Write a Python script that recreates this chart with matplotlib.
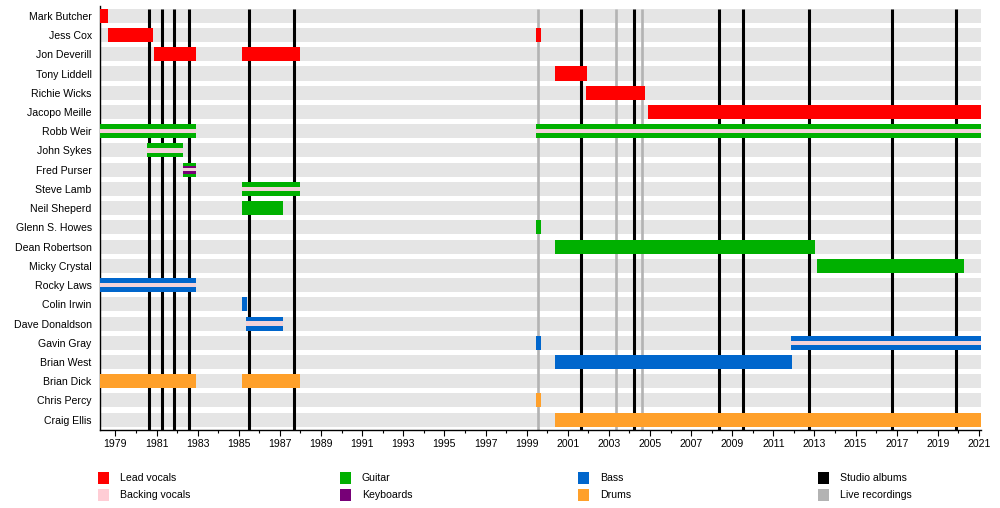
import matplotlib
matplotlib.use("Agg")
import matplotlib.pyplot as plt
from matplotlib.patches import Rectangle

plt.rcParams['font.family'] = ['Liberation Sans', 'DejaVu Sans']

members = ["Mark Butcher", "Jess Cox", "Jon Deverill", "Tony Liddell", "Richie Wicks",
           "Jacopo Meille", "Robb Weir", "John Sykes", "Fred Purser", "Steve Lamb",
           "Neil Shepherd", "Glenn S. Howes", "Dean Robertson", "Micky Crystal",
           "Rocky Laws", "Colin Irwin", "Dave Donaldson", "Gavin Gray", "Brian West",
           "Brian Dick", "Chris Percy", "Craig Ellis"]
member_labels = ["Mark Butcher", "Jess Cox", "Jon Deverill", "Tony Liddell", "Richie Wicks",
                 "Jacopo Meille", "Robb Weir", "John Sykes", "Fred Purser", "Steve Lamb",
                 "Neil Sheperd", "Glenn S. Howes", "Dean Robertson", "Micky Crystal",
                 "Rocky Laws", "Colin Irwin", "Dave Donaldson", "Gavin Gray", "Brian West",
                 "Brian Dick", "Chris Percy", "Craig Ellis"]

period_start = 1978.25
period_end = 2021.1

bar_member = ["Mark Butcher", "Jess Cox", "Jess Cox", "Jon Deverill", "Jon Deverill",
              "Tony Liddell", "Richie Wicks", "Jacopo Meille",
              "Robb Weir", "Robb Weir", "John Sykes", "Fred Purser", "Steve Lamb",
              "Neil Shepherd", "Glenn S. Howes", "Dean Robertson", "Micky Crystal",
              "Rocky Laws", "Colin Irwin", "Dave Donaldson", "Gavin Gray", "Gavin Gray",
              "Brian West", "Brian Dick", "Brian Dick", "Chris Percy", "Craig Ellis"]
bar_start = [1978.25, 1978.65, 1999.46, 1980.88, 1985.16,
             2000.38, 2001.90, 2004.90,
             1978.25, 1999.46, 1980.54, 1982.29, 1985.16,
             1985.16, 1999.46, 2000.38, 2013.12,
             1978.25, 1985.16, 1985.36, 1999.46, 2011.85,
             2000.38, 1978.25, 1985.16, 1999.46, 2000.38]
bar_end = [1978.65, 1980.84, 1999.70, 1982.92, 1987.98,
           2001.92, 2004.75, 2021.1,
           1982.92, 2021.1, 1982.29, 1982.92, 1987.98,
           1987.16, 1999.70, 2013.03, 2020.26,
           1982.92, 1985.40, 1987.16, 1999.70, 2021.1,
           2011.90, 1982.92, 1987.98, 1999.70, 2021.1]
bar_role = ["Lead vocals", "Lead vocals", "Lead vocals", "Lead vocals", "Lead vocals",
            "Lead vocals", "Lead vocals", "Lead vocals",
            "Guitar", "Guitar", "Guitar", "Guitar", "Guitar",
            "Guitar", "Guitar", "Guitar", "Guitar",
            "Bass", "Bass", "Bass", "Bass", "Bass",
            "Bass", "Drums", "Drums", "Drums", "Drums"]
bar_extra = [[], [], [], [], [],
             [], [], [],
             ["Backing vocals"], ["Backing vocals"], ["Backing vocals"],
             ["Keyboards", "Backing vocals"], ["Backing vocals"],
             [], [], [], [],
             ["Backing vocals"], [], ["Backing vocals"], [], ["Backing vocals"],
             [], [], [], [], []]

studio_albums = [1980.64, 1981.27, 1981.86, 1982.58, 1985.50, 1987.69,
                 2001.66, 2004.23, 2008.35, 2009.52, 2012.74, 2016.76, 2019.88]
live_recordings = [1999.57, 2003.36, 2004.62]

role_colors = {
    "Lead vocals": "#ff0000",
    "Backing vocals": "#f2d2d8",
    "Guitar": "#00b000",
    "Keyboards": "#770077",
    "Bass": "#0066cc",
    "Drums": "#ffa02a",
    "Studio albums": "#000000",
    "Live recordings": "#b3b3b3",
}
legend_colors = dict(role_colors, **{"Backing vocals": "#ffcdd5"})
legend_order = [["Lead vocals", "Backing vocals"], ["Guitar", "Keyboards"],
                ["Bass", "Drums"], ["Studio albums", "Live recordings"]]

fig = plt.figure(figsize=(10, 5.08), dpi=100)
ax = fig.add_axes([0.1, 1 - 429.5 / 508, 0.881, (429.5 - 6.0) / 508])

n = len(members)
ypos = {m: i for i, m in enumerate(members)}
bh = 0.73

# background bands
ax.barh(range(n), [period_end - period_start] * n, left=period_start, height=bh,
        color="#e5e5e5", zorder=1, linewidth=0)

# event lines
ax.vlines(studio_albums, -bh / 2, n - 0.5 + 0.02, color=role_colors["Studio albums"],
          linewidth=2.2, zorder=2)
ax.vlines(live_recordings, -bh / 2, n - 0.5 + 0.02, color=role_colors["Live recordings"],
          linewidth=1.9, zorder=2)

# member bars
for m, s, e, r, ex in zip(bar_member, bar_start, bar_end, bar_role, bar_extra):
    y = ypos[m]
    ax.barh(y, e - s, left=s, height=bh, color=role_colors[r], zorder=3, linewidth=0)
    if len(ex) == 1:
        ax.barh(y, e - s, left=s, height=0.22, color=role_colors[ex[0]], zorder=4, linewidth=0)
    elif len(ex) == 2:
        ax.barh(y, e - s, left=s, height=0.42, color=role_colors[ex[0]], zorder=4, linewidth=0)
        ax.barh(y, e - s, left=s, height=0.17, color=role_colors[ex[1]], zorder=5, linewidth=0)

ax.set_xlim(period_start, period_end)
ax.set_ylim(n - 0.5 + 0.01, -0.5 - 0.01)
ax.set_yticks(range(n))
ax.set_yticklabels(member_labels, fontsize=7.6)
ax.tick_params(axis='y', length=0, pad=6)
ax.set_xticks(list(range(1979, 2022, 2)))
ax.set_xticks(list(range(1979, 2022, 1)), minor=True)
ax.tick_params(axis='x', which='major', length=4, width=0.8, labelsize=7.6, pad=3)
ax.tick_params(axis='x', which='minor', length=2, width=0.8)
for sp in ["top", "right"]:
    ax.spines[sp].set_visible(False)
for sp in ["left", "bottom"]:
    ax.spines[sp].set_linewidth(1.0)
    ax.spines[sp].set_color("black")

# legend
col_x = [98, 340, 578, 818]
row_y = [478, 495]
for ci, col in enumerate(legend_order):
    for ri, lab in enumerate(col):
        x0 = col_x[ci]
        yc = row_y[ri]
        fig.add_artist(Rectangle((x0 / 1000, 1 - (yc + 6) / 508), 11 / 1000, 12 / 508,
                                 transform=fig.transFigure, color=legend_colors[lab],
                                 linewidth=0))
        fig.text((x0 + 22) / 1000, 1 - yc / 508, lab, fontsize=7.6, va='center', ha='left')

fig.savefig("out.png", dpi=100)
